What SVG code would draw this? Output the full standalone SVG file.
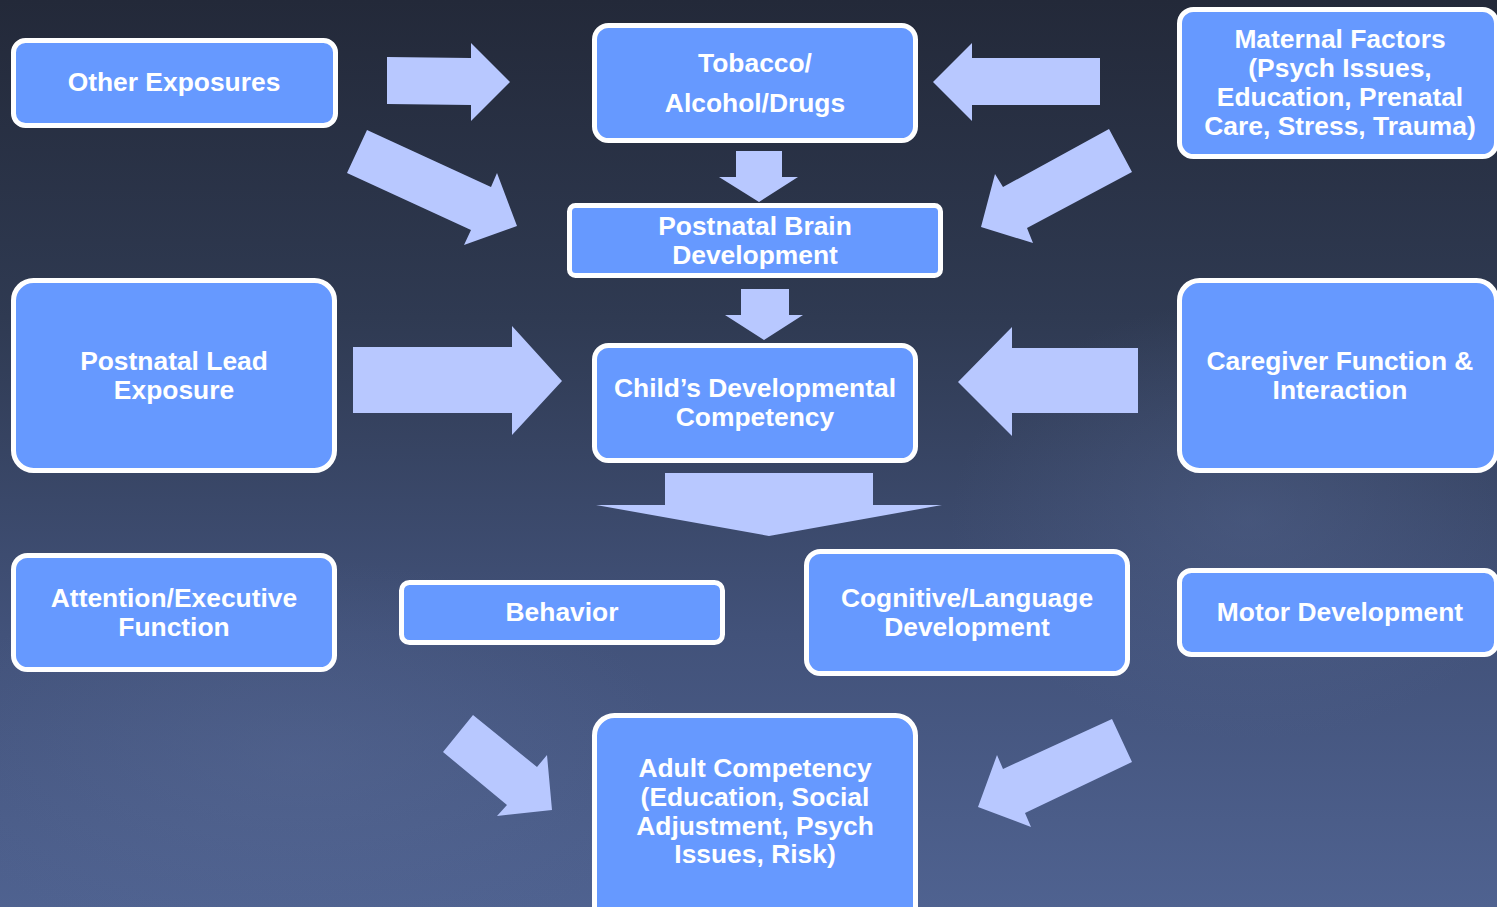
<svg xmlns="http://www.w3.org/2000/svg" width="1497" height="907" viewBox="0 0 1497 907">
<defs>
<linearGradient id="bg" x1="0" y1="0" x2="0" y2="1">
<stop offset="0" stop-color="#232939"/>
<stop offset="0.35" stop-color="#2f3a52"/>
<stop offset="0.7" stop-color="#42527a"/>
<stop offset="1" stop-color="#4f6290"/>
</linearGradient>
<radialGradient id="glow1" cx="0.5" cy="0.5" r="0.5">
<stop offset="0" stop-color="#5a6c98" stop-opacity="0.35"/>
<stop offset="1" stop-color="#5a6c98" stop-opacity="0"/>
</radialGradient>
<style>
.box{fill:#6699ff;stroke:#ffffff;stroke-width:5}
.t{font-family:"Liberation Sans",Arial,sans-serif;font-weight:bold;font-size:26.4px;fill:#ffffff;text-anchor:middle}
.arr{fill:#b8c8ff}
</style>
</defs>
<rect x="0" y="0" width="1497" height="907" fill="url(#bg)"/>
<ellipse cx="300" cy="760" rx="380" ry="200" fill="url(#glow1)"/>
<ellipse cx="1250" cy="520" rx="300" ry="220" fill="url(#glow1)"/>

<g id="connectors">
<polygon class="arr" points="387,57 471,58 471,43 510,82 471,121 471,105 387,104"/>
<polygon class="arr" points="1100,58 972,58 972,43 933,82 972,121 972,105 1100,105"/>
<polygon class="arr" points="736,151 782,151 782,177 798,177 759,202 719,177 736,177"/>
<polygon class="arr" points="367,130 491,187 497,173 517,226 464,245 471,230 347,173"/>
<polygon class="arr" points="1109,129 1132,172 1027,228 1033,243 981,227 995,174 1003,187"/>
<polygon class="arr" points="741,289 789,289 789,315 803,315 764,340 725,315 741,315"/>
<polygon class="arr" points="353,347 512,347 512,326 562,381 512,435 512,413 353,413"/>
<polygon class="arr" points="1138,348 1012,348 1012,327 958,382 1012,436 1012,413 1138,413"/>
<polygon class="arr" points="665,473 873,473 873,505 942,505 769,536 596,505 665,505"/>
<polygon class="arr" points="473,715 537,767 547,755 552,810 497,816 507,805 443,752"/>
<polygon class="arr" points="1112,719 1132,762 1025,813 1031,827 978,807 997,755 1003,769"/>
</g>

<g id="other-exposures">
<rect class="box" x="13.5" y="40.5" width="322" height="85" rx="12"/>
<text class="t" x="174" y="91">Other Exposures</text>
</g>
<g id="tobacco">
<rect class="box" x="594.5" y="25.5" width="321" height="115" rx="14"/>
<text class="t" x="755" y="72">Tobacco/</text>
<text class="t" x="755" y="112">Alcohol/Drugs</text>
</g>
<g id="maternal">
<rect class="box" x="1179.5" y="9.5" width="317" height="147" rx="14"/>
<text class="t" x="1340" y="48">Maternal Factors</text>
<text class="t" x="1340" y="77">(Psych Issues,</text>
<text class="t" x="1340" y="106">Education, Prenatal</text>
<text class="t" x="1340" y="135">Care, Stress, Trauma)</text>
</g>
<g id="brain">
<rect class="box" x="569.5" y="205.5" width="371" height="70" rx="6"/>
<text class="t" x="755" y="235">Postnatal Brain</text>
<text class="t" x="755" y="264">Development</text>
</g>
<g id="lead">
<rect class="box" x="13.5" y="280.5" width="321" height="190" rx="20"/>
<text class="t" x="174" y="370">Postnatal Lead</text>
<text class="t" x="174" y="399">Exposure</text>
</g>
<g id="child">
<rect class="box" x="594.5" y="345.5" width="321" height="115" rx="14"/>
<text class="t" x="755" y="397">Child’s Developmental</text>
<text class="t" x="755" y="426">Competency</text>
</g>
<g id="caregiver">
<rect class="box" x="1179.5" y="280.5" width="317" height="190" rx="20"/>
<text class="t" x="1340" y="370">Caregiver Function &amp;</text>
<text class="t" x="1340" y="399">Interaction</text>
</g>
<g id="attention">
<rect class="box" x="13.5" y="555.5" width="321" height="114" rx="14"/>
<text class="t" x="174" y="607">Attention/Executive</text>
<text class="t" x="174" y="636">Function</text>
</g>
<g id="behavior">
<rect class="box" x="401.5" y="582.5" width="321" height="60" rx="8"/>
<text class="t" x="562" y="621">Behavior</text>
</g>
<g id="cognitive">
<rect class="box" x="806.5" y="551.5" width="321" height="122" rx="14"/>
<text class="t" x="967" y="607">Cognitive/Language</text>
<text class="t" x="967" y="636">Development</text>
</g>
<g id="motor">
<rect class="box" x="1179.5" y="570.5" width="317" height="84" rx="12"/>
<text class="t" x="1340" y="621">Motor Development</text>
</g>
<g id="adult">
<rect class="box" x="594.5" y="715.5" width="321" height="210" rx="20"/>
<text class="t" x="755" y="777">Adult Competency</text>
<text class="t" x="755" y="806">(Education, Social</text>
<text class="t" x="755" y="835">Adjustment, Psych</text>
<text class="t" x="755" y="863">Issues, Risk)</text>
</g>
</svg>
